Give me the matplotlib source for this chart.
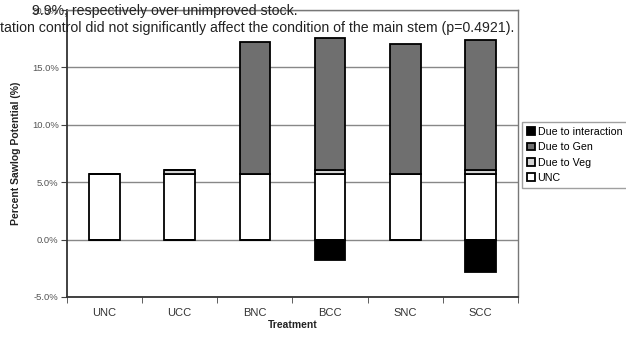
import numpy as np
import matplotlib.pyplot as plt
from matplotlib.ticker import FuncFormatter

plt.rcParams['font.family'] = ['Liberation Sans', 'DejaVu Sans']

treatments = ['UNC', 'UCC', 'BNC', 'BCC', 'SNC', 'SCC']
unc = [5.7, 5.7, 5.7, 5.7, 5.7, 5.7]
due_veg = [0.0, 0.4, 0.0, 0.4, 0.0, 0.4]
due_gen = [0.0, 0.0, 11.5, 11.5, 11.3, 11.3]
due_inter = [0.0, 0.0, 0.0, -1.8, 0.0, -2.8]

x = np.arange(len(treatments))
w = 0.41

fig = plt.figure(figsize=(6.26, 3.43), dpi=100)
ax = fig.add_axes([67/626, 1-297/343, 451/626, 287/343])

unc_a = np.array(unc)
veg_a = np.array(due_veg)
ax.bar(x, unc, w, color='white', edgecolor='black', lw=1.3, label='UNC', zorder=3)
ax.bar(x, due_veg, w, bottom=unc_a, color='#d4d4d4', edgecolor='black', lw=1.3,
       label='Due to Veg', zorder=3)
ax.bar(x, due_gen, w, bottom=unc_a + veg_a, color='#6f6f6f', edgecolor='black',
       lw=1.3, label='Due to Gen', zorder=3)
ax.bar(x, due_inter, w, color='black', edgecolor='black', lw=1.3,
       label='Due to interaction', zorder=3)

ax.set_xlim(-0.5, 5.5)
ax.set_ylim(-5, 20)
ax.set_yticks(np.arange(-5, 20.1, 5))
ax.yaxis.set_major_formatter(FuncFormatter(lambda v, p: f'{v:.1f}%'))
ax.set_xticks(x)
ax.set_xticklabels(treatments, fontsize=8, color='#333333')
ax.set_xticks(np.arange(-0.5, 6, 1), minor=True)
ax.tick_params(axis='x', which='major', length=0, pad=8)
ax.tick_params(axis='x', which='minor', length=4, color='#444444', direction='out')
ax.tick_params(axis='y', labelsize=6.8, labelcolor='#555555', length=4,
               color='#444444', pad=2)
ax.grid(axis='y', color='#888888', lw=1.0, zorder=0)

for s in ['top', 'right']:
    ax.spines[s].set_color('#777777')
    ax.spines[s].set_linewidth(1.0)
for s in ['left', 'bottom']:
    ax.spines[s].set_color('#333333')
    ax.spines[s].set_linewidth(1.3)

ax.set_xlabel('Treatment', fontsize=7.5, fontweight='bold', labelpad=1, color='#222222')
ax.set_ylabel('Percent Sawlog Potential (%)', fontsize=7.5, fontweight='bold',
              labelpad=8, color='#222222')

h, l = ax.get_legend_handles_labels()
leg = fig.legend(h[::-1], l[::-1], loc='upper left', bbox_to_anchor=(522/626, 1-122/343),
                 fontsize=7.7, frameon=True, fancybox=False, handlelength=0.75,
                 handleheight=0.75, handletextpad=0.25, borderpad=0.45,
                 labelspacing=0.5, borderaxespad=0)
leg.get_frame().set_edgecolor('#888888')
leg.get_frame().set_linewidth(1.0)

fig.text(32/626, 1-11/343, '9.9%, respectively over unimproved stock.',
         fontsize=10.2, color='#222222', va='center', ha='left')
fig.text(0, 1-28/343,
         'tation control did not significantly affect the condition of the main stem (p=0.4921).',
         fontsize=10.2, color='#222222', va='center', ha='left')

fig.savefig('out.png', dpi=100)
